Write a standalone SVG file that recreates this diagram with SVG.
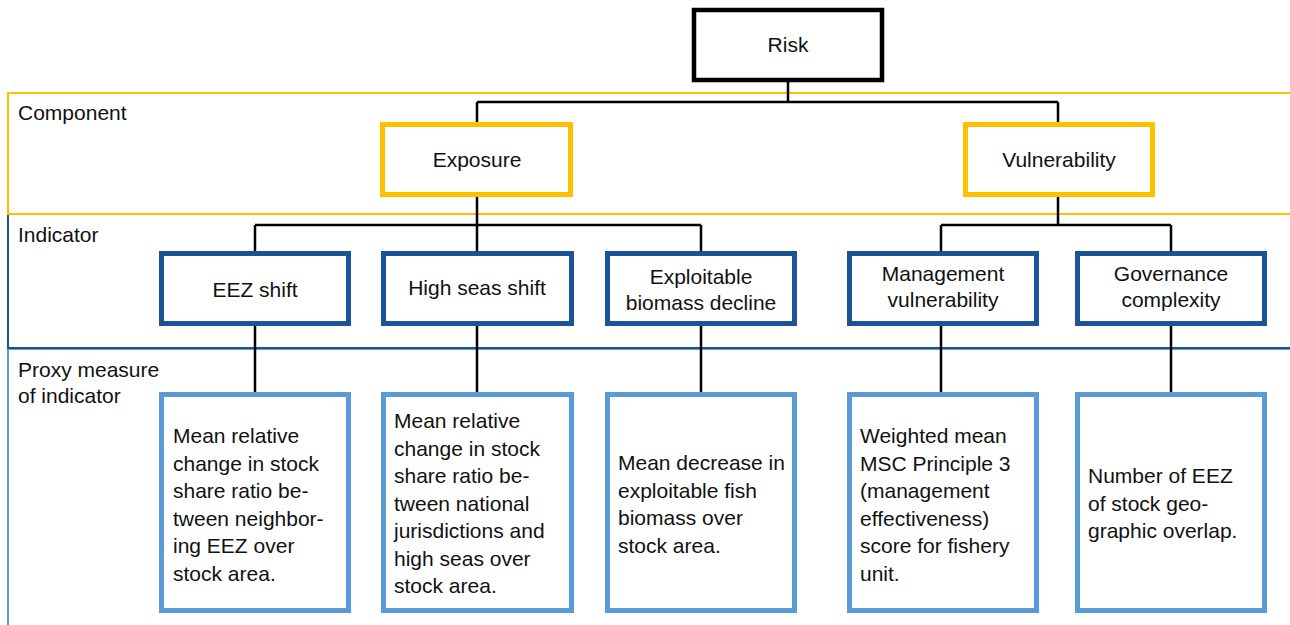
<svg xmlns="http://www.w3.org/2000/svg" width="1290" height="625" viewBox="0 0 1290 625">
<style>
text{font-family:"Liberation Sans",Arial,sans-serif;font-size:21px;fill:#111}
.c{text-anchor:middle}
.band{fill:none;stroke-width:2}
.conn{fill:none;stroke:#000;stroke-width:2.5}
.risk{fill:#fff;stroke:#000;stroke-width:4.5}
.comp{fill:#fff;stroke:#FFC000;stroke-width:5}
.ind{fill:#fff;stroke:#1A5495;stroke-width:5}
.prox{fill:#fff;stroke:#5B9BD5;stroke-width:5}
</style>
<rect fill="#fff" width="1290" height="625"/>
<g id="bands">
<rect class="band" x="8" y="349" width="1300" height="300" stroke="#5B9BD5"/>
<rect class="band" x="8" y="214" width="1300" height="134" stroke="#1A5495"/>
<rect class="band" x="8" y="93" width="1300" height="121" stroke="#FFC000"/>
<text x="18" y="120">Component</text>
<text x="18" y="242">Indicator</text>
<text x="18" y="377">Proxy measure</text>
<text x="18" y="403">of indicator</text>
</g>
<g id="connectors">
<path class="conn" d="M788 82V102M477 102H1058M477 102V122M1058 102V122"/>
<path class="conn" d="M477 197V251M255 225H701M255 225V251M701 225V251"/>
<path class="conn" d="M1058 197V225M941 225H1171M941 225V251M1171 225V251"/>
<path class="conn" d="M255 326V392M477 326V392M701 326V392M941 326V392M1171 326V392"/>
</g>
<g id="risk"><rect class="risk" x="694" y="10" width="188" height="70"/><text class="c" x="788" y="52">Risk</text></g>
<g id="exposure"><rect class="comp" x="382.5" y="124.5" width="188" height="70"/><text class="c" x="477" y="167">Exposure</text></g>
<g id="vulnerability"><rect class="comp" x="965.5" y="124.5" width="187" height="70"/><text class="c" x="1059" y="167">Vulnerability</text></g>
<g id="eez-shift"><rect class="ind" x="161.5" y="253.5" width="187" height="70"/><text class="c" x="255" y="297">EEZ shift</text></g>
<g id="high-seas-shift"><rect class="ind" x="383.5" y="253.5" width="188" height="70"/><text class="c" x="477" y="295">High seas shift</text></g>
<g id="exploitable-biomass-decline"><rect class="ind" x="607.5" y="253.5" width="187" height="70"/><text class="c" x="701" y="284">Exploitable</text><text class="c" x="701" y="310">biomass decline</text></g>
<g id="management-vulnerability"><rect class="ind" x="849.5" y="253.5" width="187" height="70"/><text class="c" x="943" y="281">Management</text><text class="c" x="943" y="307">vulnerability</text></g>
<g id="governance-complexity"><rect class="ind" x="1077.5" y="253.5" width="187" height="70"/><text class="c" x="1171" y="281">Governance</text><text class="c" x="1171" y="307">complexity</text></g>
<g id="proxy-eez"><rect class="prox" x="161.5" y="394.5" width="187" height="216"/>
<text x="173" y="443">Mean relative</text><text x="173" y="470.5">change in stock</text><text x="173" y="498">share ratio be-</text><text x="173" y="525.5">tween neighbor-</text><text x="173" y="553">ing EEZ over</text><text x="173" y="580.5">stock area.</text></g>
<g id="proxy-high-seas"><rect class="prox" x="383.5" y="394.5" width="188" height="216"/>
<text x="394" y="428">Mean relative</text><text x="394" y="455.5">change in stock</text><text x="394" y="483">share ratio be-</text><text x="394" y="510.5">tween national</text><text x="394" y="538">jurisdictions and</text><text x="394" y="565.5">high seas over</text><text x="394" y="593">stock area.</text></g>
<g id="proxy-biomass"><rect class="prox" x="607.5" y="394.5" width="187" height="216"/>
<text x="618" y="470">Mean decrease in</text><text x="618" y="497.5">exploitable fish</text><text x="618" y="525">biomass over</text><text x="618" y="552.5">stock area.</text></g>
<g id="proxy-management"><rect class="prox" x="849.5" y="394.5" width="187" height="216"/>
<text x="860" y="443">Weighted mean</text><text x="860" y="470.5">MSC Principle 3</text><text x="860" y="498">(management</text><text x="860" y="525.5">effectiveness)</text><text x="860" y="553">score for fishery</text><text x="860" y="580.5">unit.</text></g>
<g id="proxy-governance"><rect class="prox" x="1077.5" y="394.5" width="187" height="216"/>
<text x="1088" y="483">Number of EEZ</text><text x="1088" y="510.5">of stock geo-</text><text x="1088" y="538">graphic overlap.</text></g>
</svg>
